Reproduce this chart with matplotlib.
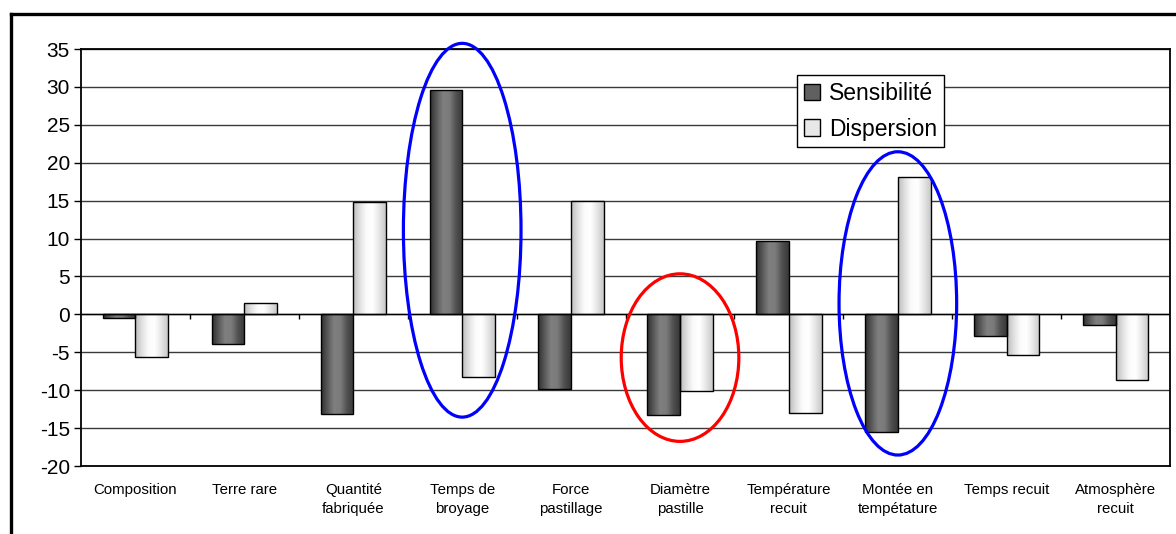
import numpy as np
import matplotlib
matplotlib.use("Agg")
import matplotlib.pyplot as plt
from matplotlib.patches import Ellipse
from matplotlib.lines import Line2D
from matplotlib.colors import LinearSegmentedColormap

plt.rcParams['font.family'] = ['Liberation Sans', 'DejaVu Sans']

categories = ["Composition", "Terre rare", "Quantité\nfabriquée", "Temps de\nbroyage",
              "Force\npastillage", "Diamètre\npastille", "Température\nrecuit",
              "Montée en\ntempétature", "Temps recuit", "Atmosphère\nrecuit"]
sensibilite = [-0.5, -3.9, -13.2, 29.6, -9.9, -13.3, 9.7, -15.5, -2.8, -1.4]
dispersion = [-5.6, 1.5, 14.8, -8.2, 15.0, -10.1, -13.0, 18.1, -5.4, -8.7]
yticks = list(range(-20, 40, 5))

# highlighted groups: (category index, y centre, height, colour)
highlights = [(3, 11.1, 49.3, "blue"), (5, -5.7, 22.1, "red"), (7, 1.45, 40.0, "blue")]

dark_cmap = LinearSegmentedColormap.from_list(
    "dark", ["#303030", "#5a5a5a", "#808080", "#7a7a7a", "#505050", "#383838"])
light_cmap = LinearSegmentedColormap.from_list(
    "light", ["#bdbdbd", "#e0e0e0", "#fbfbfb", "#ffffff", "#e6e6e6", "#c8c8c8"])
grad = np.linspace(0, 1, 64).reshape(1, -1)

fig = plt.figure(figsize=(11.76, 5.34), dpi=100)
ax = fig.add_axes([0.0689, 0.1273, 0.9261, 0.7809])

x = np.arange(len(categories))
w = 0.3


def gradient_bars(bars, cmap):
    for b in bars:
        x0, y0 = b.get_x(), b.get_y()
        x1, y1 = x0 + b.get_width(), y0 + b.get_height()
        im = ax.imshow(grad, cmap=cmap, aspect="auto", extent=[x0, x1, min(y0, y1), max(y0, y1)],
                       zorder=2, interpolation="bicubic")
        im.set_clip_path(b)


b1 = ax.bar(x - w / 2, sensibilite, w, facecolor="none", edgecolor="black", linewidth=1.0,
            zorder=3, label="Sensibilité")
b2 = ax.bar(x + w / 2, dispersion, w, facecolor="none", edgecolor="black", linewidth=1.0,
            zorder=3, label="Dispersion")
gradient_bars(b1, dark_cmap)
gradient_bars(b2, light_cmap)

ax.set_xlim(-0.5, len(categories) - 0.5)
ax.set_ylim(-20, 35)
ax.set_yticks(yticks)
ax.set_yticklabels([str(t) for t in yticks], fontsize=15)
ax.tick_params(axis="y", length=5, width=1, pad=3)
ax.set_xticks(x)
ax.set_xticklabels(categories, fontsize=10.8, linespacing=1.45)
ax.tick_params(axis="x", length=0, pad=12)
for t in yticks:
    ax.axhline(t, color="#3a3a3a", lw=1.0, zorder=1)
ax.axhline(0, color="black", lw=1.0, zorder=4)
ax.vlines(x[:-1] + 0.5, -0.6, 0, color="black", lw=1.0, zorder=4)
for s in ax.spines.values():
    s.set_linewidth(1.3)
    s.set_color("black")

for idx, yc, h, col in highlights:
    ax.add_patch(Ellipse((idx, yc), 1.08, h, fill=False, edgecolor=col, lw=2.3,
                         zorder=6, clip_on=False))

# legend with gradient squares
leg = ax.legend(loc="upper left", bbox_to_anchor=(0.6575, 0.9376), fontsize=16.5,
                frameon=True, fancybox=False, edgecolor="black", framealpha=1,
                handlelength=0.7, handleheight=0.7, handletextpad=0.4,
                borderpad=0.3, labelspacing=0.55, borderaxespad=0)
leg.get_frame().set_linewidth(1.0)
leg.set_zorder(7)
for patch, col in zip(leg.get_patches(), ["#606060", "#e8e8e8"]):
    patch.set_facecolor(col)
    patch.set_edgecolor("black")

# outer frame (cut at right and bottom)
fx = 10.5 / 1176
fy = 1 - 13.5 / 534
fig.add_artist(Line2D([fx, fx], [0, fy], transform=fig.transFigure, color="black", lw=2.4))
fig.add_artist(Line2D([fx, 1], [fy, fy], transform=fig.transFigure, color="black", lw=2.4))

fig.savefig("out.png", dpi=100)
